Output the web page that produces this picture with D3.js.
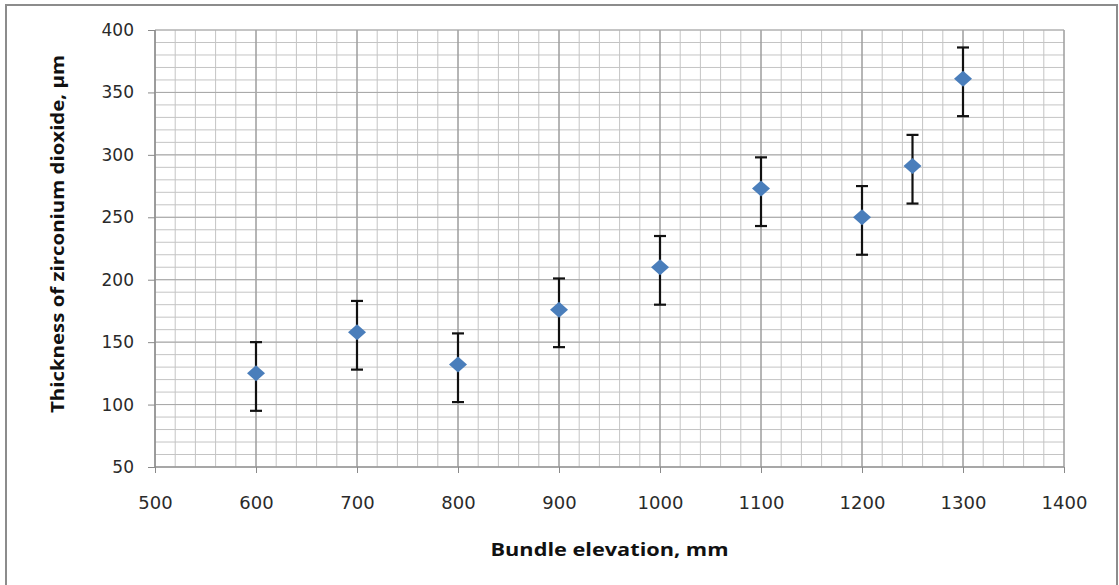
<!DOCTYPE html>
<html>
<head>
<meta charset="utf-8">
<script src="https://cdn.jsdelivr.net/npm/d3@7"></script>
<style>
  html, body { margin: 0; padding: 0; background: #fff; }
  svg { display: block; }
</style>
</head>
<body>
<svg id="chart" width="1119" height="585"></svg>
<script>
// Oxide layer thickness along the bundle
const elevations = [600, 700, 800, 900, 1000, 1100, 1200, 1250, 1300];
const thickness  = [125, 158, 132, 176, 210, 273, 250, 291, 361];
const errUp      = [25, 25, 25, 25, 25, 25, 25, 25, 25];
const errDown    = [30, 30, 30, 30, 30, 30, 30, 30, 30];

const xTicks = [500, 600, 700, 800, 900, 1000, 1100, 1200, 1300, 1400];
const yTicks = [50, 100, 150, 200, 250, 300, 350, 400];

const xTitle = "Bundle elevation, mm";
const yTitle = "Thickness of zirconium dioxide, μm";

const svg = d3.select("#chart");
const plot = { left: 155, right: 1064, top: 30, bottom: 467 };

const x = d3.scaleLinear().domain([500, 1400]).range([plot.left, plot.right]);
const y = d3.scaleLinear().domain([50, 400]).range([plot.bottom, plot.top]);

// outer frame
svg.append("rect")
  .attr("x", 6).attr("y", 5)
  .attr("width", 1111).attr("height", 600)
  .attr("fill", "#fff")
  .attr("stroke", "#8c8c8c").attr("stroke-width", 2);

const g = svg.append("g");

// minor grid
const xMinor = d3.range(500, 1401, 20);
const yMinor = d3.range(50, 401, 10);
g.append("g").selectAll("line").data(xMinor).join("line")
  .attr("x1", d => x(d)).attr("x2", d => x(d))
  .attr("y1", plot.top).attr("y2", plot.bottom)
  .attr("stroke", "#c4c4c4").attr("stroke-width", 1);
g.append("g").selectAll("line").data(yMinor).join("line")
  .attr("x1", plot.left).attr("x2", plot.right)
  .attr("y1", d => y(d)).attr("y2", d => y(d))
  .attr("stroke", "#c4c4c4").attr("stroke-width", 1);

// major grid
g.append("g").selectAll("line").data(xTicks).join("line")
  .attr("x1", d => x(d)).attr("x2", d => x(d))
  .attr("y1", plot.top).attr("y2", plot.bottom)
  .attr("stroke", "#8a8a8a").attr("stroke-width", 1);
g.append("g").selectAll("line").data(yTicks).join("line")
  .attr("x1", plot.left).attr("x2", plot.right)
  .attr("y1", d => y(d)).attr("y2", d => y(d))
  .attr("stroke", "#a8a8a8").attr("stroke-width", 1);

// axes
const xAxis = d3.axisBottom(x).tickValues(xTicks).tickSize(6).tickPadding(23)
  .tickFormat(d3.format("d"));
const yAxis = d3.axisLeft(y).tickValues(yTicks).tickSize(7).tickPadding(14)
  .tickFormat(d3.format("d"));

const gx = svg.append("g").attr("transform", `translate(0,${plot.bottom})`).call(xAxis);
const gy = svg.append("g").attr("transform", `translate(${plot.left},0)`).call(yAxis);

[gx, gy].forEach(a => {
  a.select(".domain").attr("stroke", "#8a8a8a").attr("stroke-width", 1.2);
  a.selectAll(".tick line").attr("stroke", "#8a8a8a");
  a.selectAll(".tick text")
    .attr("fill", "#2a2a2a")
    .style("font-family", "'DejaVu Sans', Verdana, sans-serif")
    .style("font-size", "17px");
});
gx.selectAll(".tick text").style("font-size", "18px");
gx.select(".domain").attr("d", `M${plot.left},0H${plot.right}`);
gy.select(".domain").attr("d", `M0,${plot.bottom}V${plot.top}`);

// error bars
const pts = elevations.map((e, i) => ({
  e, v: thickness[i], hi: thickness[i] + errUp[i], lo: thickness[i] - errDown[i]
}));
const eb = svg.append("g").attr("stroke", "#111").attr("stroke-width", 2.2);
eb.selectAll("line.v").data(pts).join("line").attr("class", "v")
  .attr("x1", d => x(d.e)).attr("x2", d => x(d.e))
  .attr("y1", d => y(d.hi)).attr("y2", d => y(d.lo));
eb.selectAll("line.t").data(pts).join("line").attr("class", "t")
  .attr("x1", d => x(d.e) - 6).attr("x2", d => x(d.e) + 6)
  .attr("y1", d => y(d.hi)).attr("y2", d => y(d.hi));
eb.selectAll("line.b").data(pts).join("line").attr("class", "b")
  .attr("x1", d => x(d.e) - 6).attr("x2", d => x(d.e) + 6)
  .attr("y1", d => y(d.lo)).attr("y2", d => y(d.lo));

// diamond markers
const diamond = "M0,-8L9,0L0,8L-9,0Z";
svg.append("g").selectAll("path").data(pts).join("path")
  .attr("d", diamond)
  .attr("transform", d => `translate(${x(d.e)},${y(d.v)})`)
  .attr("fill", "#4a7ebb");

// axis titles
svg.append("text")
  .attr("x", (plot.left + plot.right) / 2).attr("y", 556)
  .attr("text-anchor", "middle")
  .attr("textLength", 238).attr("lengthAdjust", "spacingAndGlyphs")
  .style("font-family", "'Open Sans', 'DejaVu Sans', sans-serif")
  .style("font-weight", "bold").style("font-size", "17px")
  .attr("fill", "#111")
  .text(xTitle);

svg.append("text")
  .attr("transform", "translate(64,234) rotate(-90)")
  .attr("text-anchor", "middle")
  .attr("textLength", 358).attr("lengthAdjust", "spacingAndGlyphs")
  .style("font-family", "'Open Sans', 'DejaVu Sans', sans-serif")
  .style("font-weight", "bold").style("font-size", "17px")
  .attr("fill", "#111")
  .text(yTitle);
</script>
</body>
</html>
